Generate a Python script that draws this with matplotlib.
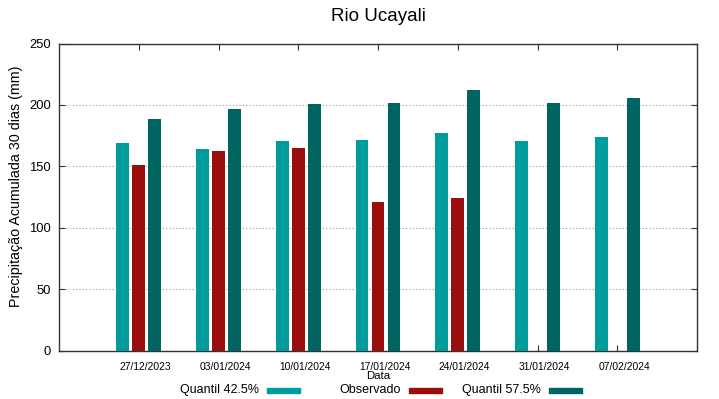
import numpy as np
import matplotlib
matplotlib.use("Agg")
import matplotlib.pyplot as plt
from matplotlib.patches import Rectangle

plt.rcParams['font.family'] = ['Liberation Sans', 'DejaVu Sans']

# data
datas = ['27/12/2023', '03/01/2024', '10/01/2024', '17/01/2024',
         '24/01/2024', '31/01/2024', '07/02/2024']
q425 = [169, 164, 171, 171.5, 177, 171, 173.5]
observado = [151, 162.5, 164.5, 121, 124.5, np.nan, np.nan]
q575 = [188.5, 197, 201, 201.5, 212.5, 201.5, 205.5]

cor_q425 = '#009b9b'
cor_obs = '#9b0e0e'
cor_q575 = '#006461'

fig = plt.figure(figsize=(7.19, 3.99), dpi=100)
ax = fig.add_axes([59/719, 1-350.5/399, 638/719, 307/399])

x = np.arange(len(datas))
larg = 0.16
ax.bar(x - 0.2, q425, larg, color=cor_q425, zorder=3)
ax.bar(x, observado, larg, color=cor_obs, zorder=3)
ax.bar(x + 0.2, q575, larg, color=cor_q575, zorder=3)

ax.set_xlim(-1, 7)
ax.set_ylim(0, 250)
ax.set_yticks([0, 50, 100, 150, 200, 250])
# tick marks on the groups, labels (minor ticks) a bit to the right, as gnuplot does
ax.set_xticks(x)
ax.set_xticklabels([])
ax.set_xticks(x + 0.085, minor=True)
ax.set_xticklabels(datas, minor=True, fontsize=7.4)

ax.tick_params(axis='y', direction='in', length=4, left=True, right=True,
               labelsize=9.4, pad=6, colors='#333333', labelcolor='black')
ax.tick_params(axis='x', which='major', direction='in', length=4, bottom=True, top=True,
               colors='#333333')
ax.tick_params(axis='x', which='minor', length=0, pad=8.5, labelcolor='black')
for s in ax.spines.values():
    s.set_color('#333333')
    s.set_linewidth(1.0)

ax.yaxis.grid(True, linestyle=(0, (1, 2)), color='#999999', linewidth=0.8, zorder=0)

ax.set_title('Rio Ucayali', fontsize=13.5, pad=16.4)
ax.set_ylabel('Precipitação Acumulada 30 dias (mm)', fontsize=10.3)
ax.yaxis.set_label_coords(-0.056, 0.536)
ax.set_xlabel('Data', fontsize=8.2)
ax.xaxis.set_label_coords(0.5, -0.068)

# legend, gnuplot style: text right aligned, then the colour box
legenda = [('Quantil 42.5%', cor_q425, 259), ('Observado', cor_obs, 401),
           ('Quantil 57.5%', cor_q575, 541)]
for txt, cor, xfim in legenda:
    fig.text(xfim/719, 1-393/399, txt, ha='right', va='baseline', fontsize=9)
    fig.add_artist(Rectangle(((xfim+8)/719, 1-392.5/399), 33/719, 5/399,
                             transform=fig.transFigure, color=cor))

fig.savefig('out.png', dpi=100)
